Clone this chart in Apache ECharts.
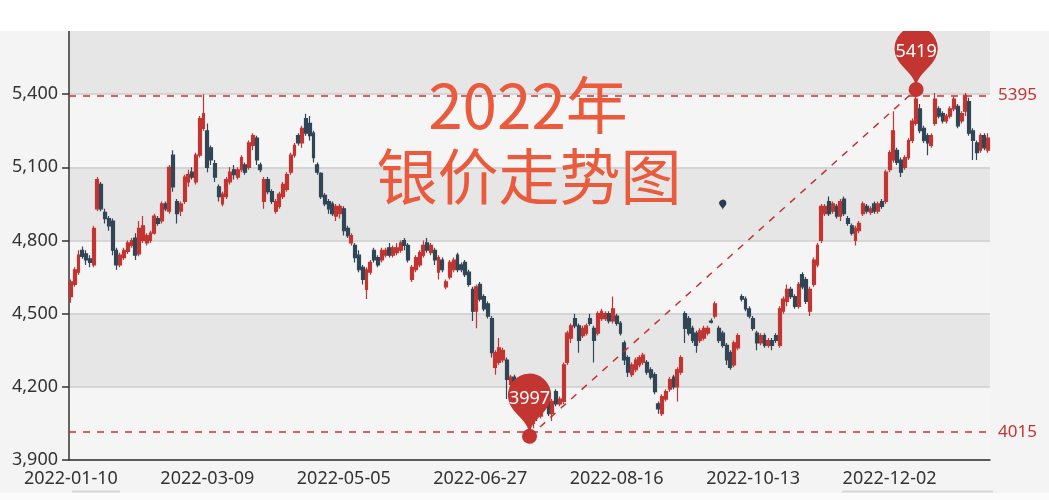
<!DOCTYPE html>
<html><head><meta charset="utf-8">
<script src="https://cdn.jsdelivr.net/npm/echarts@6/dist/echarts.min.js"></script>
<style>html,body{margin:0;padding:0;background:#fff}#c{width:1049px;height:500px}</style>
</head><body><div id="c"></div><script>
// Trading calendar: weekdays from 2022-01-10, minus exchange closures (and one missing day)
const closedDays = ['2022-01-31','2022-02-01','2022-02-02','2022-02-03','2022-02-04','2022-02-07',
  '2022-04-04','2022-04-05','2022-05-02','2022-05-03','2022-05-04','2022-06-03','2022-09-12',
  '2022-10-03','2022-10-04','2022-10-05','2022-10-06','2022-10-07','2023-01-02'];

const openV = [4570,4620,4670,4760,4745,4725,4700,4930,5030,4915,4890,4880,4760,4700,4730,4755,4780,4810,4745,4800,
4790,4800,4830,4890,4880,4950,4920,5150,4960,4920,4960,5040,5080,5040,5150,5260,5250,5180,5115,5020,
4950,4980,5040,5090,5060,5090,5110,5100,5190,5220,5110,4960,5050,5000,4920,4940,4980,5010,5080,5150,
5230,5200,5300,5280,5240,5110,5075,4985,4960,4950,4900,4910,4930,4850,4790,4780,4740,4690,4600,4670,
4760,4730,4720,4740,4770,4740,4750,4760,4800,4780,4640,4680,4700,4740,4790,4750,4760,4670,4720,4610,
4650,4680,4740,4700,4710,4670,4600,4510,4620,4570,4540,4480,4280,4300,4310,4310,4210,4240,4220,4170,
4110,4130,4050,4110,4080,4180,4150,4090,4180,4130,4140,4300,4400,4480,4450,4410,4420,4480,4440,4420,
4480,4480,4500,4470,4490,4460,4380,4320,4250,4270,4290,4300,4300,4270,4250,4130,4090,4150,4190,4240,
4200,4260,4500,4480,4440,4420,4390,4400,4420,4470,4490,4440,4420,4370,4340,4290,4360,4570,4560,4520,
4480,4420,4380,4410,4370,4390,4410,4370,4510,4550,4600,4570,4530,4660,4640,4510,4620,4700,4800,4910,
4960,4920,4940,4900,4970,4890,4860,4800,4840,4910,4940,4915,4950,4920,4960,4960,5090,5130,5170,5130,
5100,5140,5210,5280,5340,5260,5230,5190,5280,5340,5320,5290,5310,5340,5350,5290,5330,5370,5250,5200,
5170,5230,5170];
const closeV = [4630,4680,4740,4735,4720,4710,4850,5050,4930,4890,4860,4760,4700,4740,4760,4790,4800,4740,4850,4860,
4820,4830,4900,4870,4950,4930,5100,5020,4910,4950,5060,5070,5060,5150,5300,5320,5100,5130,5060,4980,
4990,5050,5080,5070,5090,5140,5080,5200,5230,5130,5090,5050,5000,4960,4960,4990,5030,5070,5150,5190,
5200,5260,5240,5230,5140,5080,4980,4950,4930,4910,4940,4940,4840,4820,4820,4730,4680,4640,4680,4710,
4720,4700,4760,4760,4740,4770,4770,4790,4780,4720,4690,4730,4750,4780,4760,4780,4720,4730,4680,4630,
4710,4720,4680,4680,4660,4620,4510,4610,4560,4520,4490,4340,4340,4360,4350,4230,4240,4220,4170,4120,
4140,4015,4090,4080,4120,4130,4090,4140,4130,4150,4290,4420,4450,4450,4390,4440,4450,4460,4390,4500,
4510,4500,4470,4520,4460,4420,4310,4260,4290,4310,4320,4330,4260,4240,4180,4110,4160,4180,4230,4200,
4270,4320,4440,4420,4390,4370,4430,4440,4440,4465,4540,4390,4370,4310,4280,4380,4410,4560,4520,4490,
4440,4380,4410,4370,4390,4370,4390,4520,4560,4600,4570,4530,4620,4610,4550,4600,4720,4780,4940,4940,
4910,4950,4900,4960,4910,4870,4830,4850,4870,4950,4920,4930,4920,4950,4940,5080,5160,5250,5120,5080,
5140,5210,5290,5380,5250,5210,5200,5230,5380,5310,5290,5310,5340,5380,5270,5320,5395,5240,5210,5160,
5230,5180,5220];
const lowV = [4545,4610,4660,4725,4700,4690,4690,4920,4920,4870,4840,4740,4680,4690,4720,4745,4770,4720,4735,4790,
4780,4790,4825,4860,4870,4920,4910,5000,4870,4900,4950,5020,5050,5030,5140,5250,5080,5110,5040,4960,
4940,4970,5030,5050,5050,5080,5070,5090,5170,5110,5080,4930,4990,4950,4910,4930,4970,5000,5070,5140,
5190,5180,5230,5210,5120,5070,4970,4940,4910,4900,4880,4890,4820,4810,4780,4710,4670,4620,4560,4660,
4710,4690,4710,4730,4730,4730,4740,4750,4760,4710,4630,4670,4690,4730,4750,4740,4700,4640,4670,4600,
4640,4670,4670,4670,4650,4610,4470,4440,4550,4510,4480,4320,4250,4290,4300,4150,4200,4200,4150,4100,
4090,3997,4030,4060,4070,4110,4080,4060,4120,4120,4130,4290,4380,4440,4340,4400,4410,4450,4300,4410,
4470,4470,4460,4460,4450,4410,4290,4240,4240,4260,4280,4290,4250,4230,4170,4090,4080,4140,4180,4190,
4140,4250,4380,4410,4380,4340,4380,4390,4410,4460,4480,4380,4360,4290,4270,4280,4350,4550,4510,4480,
4430,4350,4370,4360,4360,4350,4380,4360,4500,4530,4560,4520,4520,4600,4540,4490,4610,4690,4790,4900,
4900,4910,4890,4880,4900,4860,4820,4780,4830,4900,4910,4905,4910,4910,4930,4950,5080,5120,5110,5060,
5090,5130,5200,5270,5240,5200,5150,5180,5270,5300,5280,5280,5300,5330,5260,5280,5310,5230,5130,5130,
5160,5170,5160];
const highV = [4640,4690,4760,4775,4760,4740,4860,5060,5040,4930,4900,4890,4770,4750,4770,4800,4810,4830,4880,4900,
4830,4840,4910,4900,4960,4960,5110,5170,4970,4960,5070,5090,5100,5160,5310,5400,5280,5190,5130,5030,
5000,5060,5100,5110,5100,5150,5120,5210,5240,5230,5120,5060,5060,5010,4970,5000,5040,5080,5160,5200,
5240,5270,5320,5310,5250,5120,5080,4995,4970,4960,4950,4950,4940,4860,4830,4790,4760,4700,4690,4720,
4770,4740,4770,4770,4790,4780,4790,4800,4810,4790,4700,4740,4760,4800,4810,4790,4770,4740,4730,4640,
4720,4730,4750,4710,4720,4680,4610,4620,4630,4580,4550,4490,4350,4400,4360,4320,4250,4250,4230,4180,
4150,4140,4100,4120,4130,4190,4160,4150,4190,4160,4300,4430,4460,4500,4460,4450,4460,4500,4450,4510,
4520,4510,4510,4570,4500,4470,4390,4330,4300,4320,4330,4340,4310,4280,4260,4140,4170,4190,4240,4250,
4280,4330,4510,4490,4450,4430,4440,4450,4450,4480,4550,4450,4430,4380,4350,4390,4420,4580,4570,4530,
4490,4430,4420,4420,4400,4400,4420,4530,4570,4620,4610,4580,4630,4670,4650,4610,4730,4790,4950,4950,
4980,4960,4950,4970,4980,4900,4870,4860,4880,4960,4950,4940,4960,4960,4970,5090,5170,5330,5180,5140,
5150,5220,5300,5419,5360,5270,5240,5240,5405,5350,5330,5320,5350,5390,5360,5330,5405,5385,5260,5210,
5240,5240,5240];

const titleLines = ['2022年', '银价走势图'];
const markPin = { index: 172, value: 4925 };

function buildDates(n) {
  const out = [];
  let t = Date.UTC(2022, 0, 10);
  while (out.length < n) {
    const d = new Date(t);
    const dow = d.getUTCDay();
    const s = d.toISOString().slice(0, 10);
    if (dow !== 0 && dow !== 6 && closedDays.indexOf(s) < 0) out.push(s);
    t += 86400000;
  }
  return out;
}
const dates = buildDates(closeV.length);
const candles = dates.map((_, i) => [openV[i], closeV[i], lowV[i], highV[i]]);

const RED = '#c23531', NAVY = '#314656';
const chart = echarts.init(document.getElementById('c'));
chart.setOption({
  animation: false,
  backgroundColor: '#f4f4f4',
  grid: { left: 69, right: 59, top: 21, bottom: 40 },
  xAxis: {
    type: 'category', data: dates, boundaryGap: true,
    axisLine: { lineStyle: { color: '#333', width: 1.5 } },
    axisTick: { interval: 35, length: 7, lineStyle: { color: '#333', width: 1.5 } },
    axisLabel: { interval: 35, fontSize: 18, color: '#333', margin: 10, fontFamily: 'Noto Sans' },
    splitLine: { show: false }
  },
  yAxis: {
    type: 'value', min: 3900, max: 5700, interval: 300, scale: true,
    axisLine: { show: true, lineStyle: { color: '#333', width: 1.5 } },
    axisTick: { show: true, length: 7, lineStyle: { color: '#333', width: 1.5 } },
    axisLabel: { fontSize: 18, color: '#333', margin: 11, fontFamily: 'Noto Sans' },
    splitLine: { show: true, lineStyle: { color: '#ccc', width: 1.5 } },
    splitArea: { show: true, areaStyle: { color: ['rgba(250,250,250,0.3)', 'rgba(200,200,200,0.3)'] } }
  },
  series: [{
    type: 'candlestick',
    data: candles,
    barWidth: 3.4,
    itemStyle: { color: RED, color0: NAVY, borderColor: RED, borderColor0: NAVY, borderWidth: 1.2 },
    markPoint: {
      symbol: 'pin', symbolSize: 72,
      itemStyle: { color: RED },
      label: { color: '#fff', fontSize: 18, fontFamily: 'Noto Sans',
        formatter: p => (p != null ? Math.round(p.value) + '' : '') },
      data: [
        { name: 'Mark', coord: [dates[markPin.index], markPin.value], value: markPin.value,
          symbolSize: 12, itemStyle: { color: 'rgb(41,60,85)' }, label: { show: false } },
        { name: 'highest value', type: 'max', valueDim: 'highest' },
        { name: 'lowest value', type: 'min', valueDim: 'lowest' }
      ]
    },
    markLine: {
      symbol: ['none', 'none'],
      lineStyle: { color: RED, type: [7, 7], width: 1.5 },
      label: { color: RED, fontSize: 17, distance: 8, fontFamily: 'Noto Sans' },
      data: [
        [
          { name: 'from lowest to highest', type: 'min', valueDim: 'lowest', symbol: 'circle', symbolSize: 15, label: { show: false } },
          { type: 'max', valueDim: 'highest', symbol: 'circle', symbolSize: 15, label: { show: false } }
        ],
        { name: 'min line on close', type: 'min', valueDim: 'close' },
        { name: 'max line on close', type: 'max', valueDim: 'close' }
      ]
    }
  }],
  graphic: [
    { type: 'rect', x: 0, y: 0, z: 100, shape: { width: 1049, height: 31 }, style: { fill: '#ffffff' } },
    { type: 'rect', x: 0, y: 493, z: 100, shape: { width: 1049, height: 7 }, style: { fill: '#fbfbfb' } },
    { type: 'line', z: 100, shape: { x1: 72, y1: 491.5, x2: 120, y2: 491.5 }, style: { stroke: '#d8d8d8', lineWidth: 2 } },
    { type: 'line', z: 100, shape: { x1: 842, y1: 491.5, x2: 993, y2: 491.5 }, style: { stroke: '#d8d8d8', lineWidth: 2 } },
    { type: 'text', z: 110, x: 528, y: 105,
      style: { text: titleLines[0], fill: '#e95b3c', fontSize: 62, fontFamily: 'Noto Sans CJK SC', align: 'center', verticalAlign: 'middle' } },
    { type: 'text', z: 110, x: 529, y: 177,
      style: { text: titleLines[1], fill: '#e95b3c', fontSize: 61, fontFamily: 'Noto Sans CJK SC', align: 'center', verticalAlign: 'middle' } }
  ]
});
</script></body></html>
